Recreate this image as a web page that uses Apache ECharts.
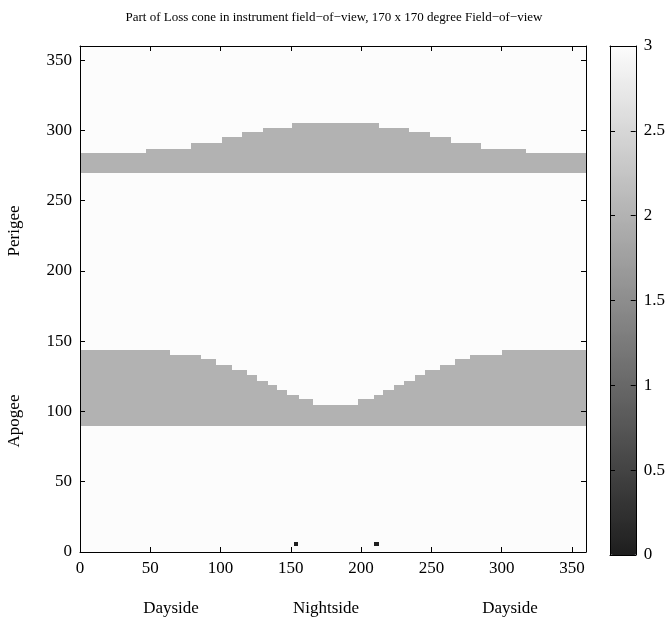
<!DOCTYPE html>
<html><head><meta charset="utf-8">
<script src="https://cdn.jsdelivr.net/npm/echarts@6/dist/echarts.min.js"></script>
<style>html,body{margin:0;padding:0;background:#fff}#c{width:668px;height:622px}</style>
</head><body><div id="c"></div>
<script>
// ---- data ----
const xTicks = [0, 50, 100, 150, 200, 250, 300, 350];
const yTicks = [0, 50, 100, 150, 200, 250, 300, 350];
const colorTicks = [0, 0.5, 1, 1.5, 2, 2.5, 3];
const backgroundValue = 3;
const bandValue = 2;
const dotValue = 0;
const perigeeEdges = [0, 47, 79, 101, 115, 130, 151, 213, 234, 249, 264, 285, 317, 360];
const perigeeTop = [284, 287, 291, 295, 298.5, 301.5, 305.5, 301.5, 298.5, 295, 291, 287, 284];
const perigeeBottom = 270;
const apogeeEdges = [0, 64, 86, 96.5, 108, 119, 126, 133.5, 140.5, 147.5, 155.5, 166, 198, 209, 215.5, 223.5, 230.5, 238, 245.5, 256, 266.5, 277.5, 300, 360];
const apogeeTop = [143.5, 140.5, 137, 133, 129.5, 126, 122, 119, 115, 111.5, 108.5, 104.5, 108.5, 111.5, 115, 119, 122, 126, 129.5, 133, 137, 140.5, 143.5];
const apogeeBottom = 90;
const dotCenters = [[153.5, 5.5], [211, 5.5]];
const dotHalf = 1.5;
const regionLabels = ['Dayside', 'Nightside', 'Dayside'];
const sideLabels = ['Perigee', 'Apogee'];

// ---- build cells ----
const cells = [];
cells.push([0, 360, 0, 360, backgroundValue]);
for (let i = 0; i < perigeeTop.length; i++) cells.push([perigeeEdges[i], perigeeEdges[i + 1], perigeeBottom, perigeeTop[i], bandValue]);
for (let i = 0; i < apogeeTop.length; i++) cells.push([apogeeEdges[i], apogeeEdges[i + 1], apogeeBottom, apogeeTop[i], bandValue]);
dotCenters.forEach(d => cells.push([d[0] - dotHalf, d[0] + dotHalf, d[1] - dotHalf, d[1] + dotHalf, dotValue]));

const FONT = 'Liberation Serif';
const TS = 17;
const lbl = { fontFamily: FONT, fontSize: TS, color: '#000' };
const line = { lineStyle: { color: '#000', width: 1 } };

const chart = echarts.init(document.getElementById('c'), null, { renderer: 'canvas' });
const axisBase = (min, max, interval, pos, showLabel, gridIndex) => ({
  type: 'value', min, max, interval, position: pos, gridIndex,
  axisLine: Object.assign({ show: true, onZero: false }, line),
  axisTick: { show: true, inside: true, length: 5, lineStyle: { color: '#000' } },
  axisLabel: Object.assign({ show: showLabel, showMaxLabel: max === 360 ? false : true, margin: 8 }, lbl),
  splitLine: { show: false }, z: 10
});
const txt = (t, x, y, rot) => ({
  type: 'text', x, y, rotation: rot || 0,
  style: { text: t, textAlign: 'center', textVerticalAlign: 'middle', fill: '#000', font: TS + 'px ' + FONT }
});

chart.setOption({
  animation: false,
  backgroundColor: '#fff',
  title: {
    text: 'Part of Loss cone in instrument field\u2212of\u2212view, 170 x 170 degree Field\u2212of\u2212view',
    left: 'center', top: 6,
    textStyle: { fontFamily: FONT, fontSize: 13, fontWeight: 'normal', color: '#000' }
  },
  grid: [
    { left: 80, top: 46, width: 506, height: 506 },
    { left: 610, top: 46, width: 27, height: 509 }
  ],
  xAxis: [
    axisBase(0, 360, 50, 'bottom', true, 0),
    axisBase(0, 360, 50, 'top', false, 0),
    Object.assign(axisBase(0, 1, 1, 'bottom', false, 1), { axisTick: { show: false } }),
    Object.assign(axisBase(0, 1, 1, 'top', false, 1), { axisTick: { show: false } })
  ],
  yAxis: [
    axisBase(0, 360, 50, 'left', true, 0),
    axisBase(0, 360, 50, 'right', false, 0),
    axisBase(0, 3, 0.5, 'right', true, 1),
    axisBase(0, 3, 0.5, 'left', false, 1)
  ],
  visualMap: {
    type: 'continuous', min: 0, max: 3, dimension: 4, seriesIndex: 0,
    left: 610, top: 46, itemWidth: 27, itemHeight: 509, padding: 0,
    calculable: false, hoverLink: false, text: null, showLabel: false,
    inRange: { color: ['#1e1e1e', '#fcfcfc'] }
  },
  series: [{
    type: 'custom', xAxisIndex: 0, yAxisIndex: 0,
    encode: { x: [0, 1], y: [2, 3] },
    data: cells,
    renderItem: function (params, api) {
      const p0 = api.coord([api.value(0), api.value(3)]);
      const p1 = api.coord([api.value(1), api.value(2)]);
      const x0 = Math.round(p0[0]), x1 = Math.round(p1[0]);
      const y0 = Math.round(p0[1]), y1 = Math.round(p1[1]);
      return {
        type: 'rect',
        shape: { x: x0, y: y0, width: x1 - x0, height: y1 - y0 },
        style: { fill: api.visual('color') }
      };
    }
  }],
  graphic: [
    txt(regionLabels[0], 171, 609),
    txt(regionLabels[1], 326, 609),
    txt(regionLabels[2], 510, 609),
    txt(sideLabels[0], 15, 231, Math.PI / 2),
    txt(sideLabels[1], 15, 421, Math.PI / 2)
  ]
});
</script></body></html>
